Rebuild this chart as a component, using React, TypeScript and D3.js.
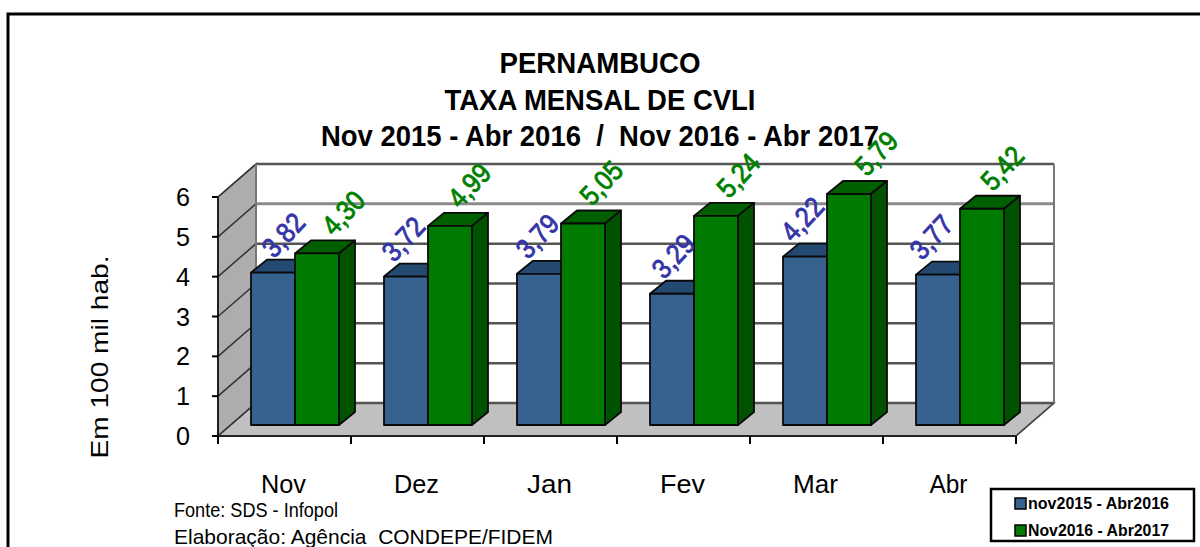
import React from 'react';
import * as d3 from 'd3';

const months = ['Nov', 'Dez', 'Jan', 'Fev', 'Mar', 'Abr'];
const seriesNames = ['nov2015 - Abr2016', 'Nov2016 - Abr2017'];
const values2016 = [3.82, 3.72, 3.79, 3.29, 4.22, 3.77];
const values2017 = [4.30, 4.99, 5.05, 5.24, 5.79, 5.42];
const yTicks = [0, 1, 2, 3, 4, 5, 6];
const titleLines = ['PERNAMBUCO', 'TAXA MENSAL DE CVLI', 'Nov 2015 - Abr 2016  /  Nov 2016 - Abr 2017'];

const width = 1200;
const height = 547;
const font = '"Liberation Sans", Arial, sans-serif';

// pseudo 3d offsets, wall depth and bar depth
const depthX = 38;
const depthY = -33;
const barDepthX = 16;
const barDepthY = -13;

const x = d3.scaleBand<string>().domain(months).range([218, 1016]);
const y = d3.scaleLinear().domain([0, 6]).range([436, 197]);
const barBase = 425;
const barScale = 39.9;

const seriesColors = [
  { front: '#37628f', top: '#254a72', side: '#1f3f60', label: '#3535a8' },
  { front: '#007a00', top: '#006000', side: '#005200', label: '#008000' },
];

const inner = d3.scaleBand<number>().domain([0, 1]).range([33, 121]);

// hand placed label nudges from the bar centre, excel moved them around
const labelNudgeX = [
  [12, -1, 0, 3, -1, -5],
  [28, 21, 20, 24, 29, 22],
];
const labelNudgeY = [-36, -39];

function fmt(v: number) {
  return v.toFixed(2).replace('.', ',');
}

function Bar({ month, index, value }: { month: string; index: number; value: number }) {
  const c = seriesColors[index];
  const x0 = x(month)! + inner(index)!;
  const x1 = x0 + inner.bandwidth();
  const yTop = barBase - value * barScale;
  const path = d3.path();
  path.moveTo(x0, yTop);
  path.lineTo(x0 + barDepthX, yTop + barDepthY);
  path.lineTo(x1 + barDepthX, yTop + barDepthY);
  path.lineTo(x1, yTop);
  path.closePath();
  const side = d3.path();
  side.moveTo(x1, yTop);
  side.lineTo(x1 + barDepthX, yTop + barDepthY);
  side.lineTo(x1 + barDepthX, barBase + barDepthY);
  side.lineTo(x1, barBase);
  side.closePath();
  return (
    <g stroke="#0a0a0a" strokeWidth={1.8} strokeLinejoin="round">
      <path d={path.toString()} fill={c.top} />
      <path d={side.toString()} fill={c.side} />
      <rect x={x0} y={yTop} width={x1 - x0} height={barBase - yTop} fill={c.front} />
    </g>
  );
}

function BarLabel({ month, index, value }: { month: string; index: number; value: number }) {
  const c = seriesColors[index];
  const i = months.indexOf(month);
  const cx = x(month)! + inner(index)! + inner.bandwidth() / 2 + labelNudgeX[index][i];
  const cy = barBase - value * barScale + labelNudgeY[index];
  return (
    <text
      transform={`translate(${cx},${cy}) rotate(-47)`}
      textAnchor="middle"
      dominantBaseline="middle"
      fontFamily={font}
      fontSize={28}
      fill={c.label}
      stroke={c.label}
      strokeWidth={0.9}
      textLength={48}
      lengthAdjust="spacingAndGlyphs"
    >
      {fmt(value)}
    </text>
  );
}

export default function App() {
  const left = x.range()[0];
  const right = x.range()[1];
  const y0 = y(0);
  const y6 = y(6);
  return (
    <svg width={width} height={height} style={{ position: 'absolute', left: 0, top: 0, background: '#fff' }}>
      <path d="M8,547V14H1200" fill="none" stroke="#000" strokeWidth={3} />

      {titleLines.map((t, i) => (
        <text key={i} x={600} y={73 + i * 36.5} textAnchor="middle" fontFamily={font} fontWeight="bold" fontSize={30} fill="#000"
          textLength={[201, 311, 558][i]} lengthAdjust="spacingAndGlyphs" xmlSpace="preserve">
          {t}
        </text>
      ))}

      {/* walls and floor */}
      <polygon points={`${left},${y0} ${left + depthX},${y0 + depthY} ${left + depthX},${y6 + depthY} ${left},${y6}`} fill="#adadad" stroke="#555" strokeWidth={1.5} />
      <polygon points={`${left},${y0} ${left + depthX},${y0 + depthY} ${right + depthX},${y0 + depthY} ${right},${y0}`} fill="#c0c0c0" stroke="#666" strokeWidth={1.5} />

      {yTicks.map(t => (
        <g key={t}>
          <line x1={left} y1={y(t)} x2={left + depthX} y2={y(t) + depthY} stroke="#333" strokeWidth={1.5} />
          <line x1={left + depthX} y1={y(t) + depthY} x2={right + depthX} y2={y(t) + depthY} stroke={t === 5 ? '#8a8a8a' : '#555'} strokeWidth={t === 5 ? 3 : 2.5} />
          <line x1={left - 6} y1={y(t)} x2={left} y2={y(t)} stroke="#000" strokeWidth={2} />
          <text x={176} y={y(t) + 9} fontFamily={font} fontSize={26} fill="#000" textLength={14} lengthAdjust="spacingAndGlyphs">{t}</text>
        </g>
      ))}
      <line x1={right + depthX} y1={y6 + depthY} x2={right + depthX} y2={y0 + depthY} stroke="#777" strokeWidth={2} />
      <line x1={left + depthX} y1={y6 + depthY} x2={left + depthX} y2={y0 + depthY} stroke="#777" strokeWidth={2} />
      <line x1={right} y1={y0} x2={right + depthX} y2={y0 + depthY} stroke="#444" strokeWidth={1.5} />
      <line x1={left} y1={y6} x2={left} y2={y0} stroke="#000" strokeWidth={1.5} />
      <line x1={left} y1={y0} x2={right} y2={y0} stroke="#222" strokeWidth={2} />

      {months.map((m, i) => (
        <g key={m}>
          <Bar month={m} index={0} value={values2016[i]} />
          <Bar month={m} index={1} value={values2017[i]} />
        </g>
      ))}
      {months.map((m, i) => (
        <g key={m}>
          <BarLabel month={m} index={0} value={values2016[i]} />
          <BarLabel month={m} index={1} value={values2017[i]} />
        </g>
      ))}

      {/* x axis ticks and labels */}
      {[...months.map(m => x(m)!), right].map((px, i) => (
        <line key={i} x1={px} y1={y0} x2={px} y2={y0 + 8} stroke="#000" strokeWidth={2} />
      ))}
      {months.map(m => (
        <text key={m} x={x(m)! + x.bandwidth() / 2 - 1} y={493} textAnchor="middle" fontFamily={font} fontSize={26} fill="#000" textLength={m === 'Abr' ? 38 : 45} lengthAdjust="spacingAndGlyphs">{m}</text>
      ))}

      <text transform="translate(108,357) rotate(-90)" textAnchor="middle" fontFamily={font} fontSize={24} fill="#000" textLength={203} lengthAdjust="spacingAndGlyphs">Em 100 mil hab.</text>

      <text x={174} y={517} fontFamily={font} fontSize={21} fill="#000" textLength={164} lengthAdjust="spacingAndGlyphs">Fonte: SDS - Infopol</text>
      <text x={174} y={544} fontFamily={font} fontSize={21} fill="#000" textLength={379} lengthAdjust="spacingAndGlyphs" xmlSpace="preserve">Elaboração: Agência  CONDEPE/FIDEM</text>

      {/* legend */}
      <rect x={991} y={489} width={203} height={52} fill="#fff" stroke="#000" strokeWidth={2.5} />
      {seriesNames.map((name, i) => (
        <g key={name}>
          <rect x={1015} y={498 + i * 27} width={11} height={11} fill={seriesColors[i].front} stroke="#000" strokeWidth={1.5} />
          <text x={1028} y={509 + i * 27} fontFamily={font} fontWeight="bold" fontSize={16} fill="#000" textLength={141} lengthAdjust="spacingAndGlyphs">{name}</text>
        </g>
      ))}
    </svg>
  );
}
